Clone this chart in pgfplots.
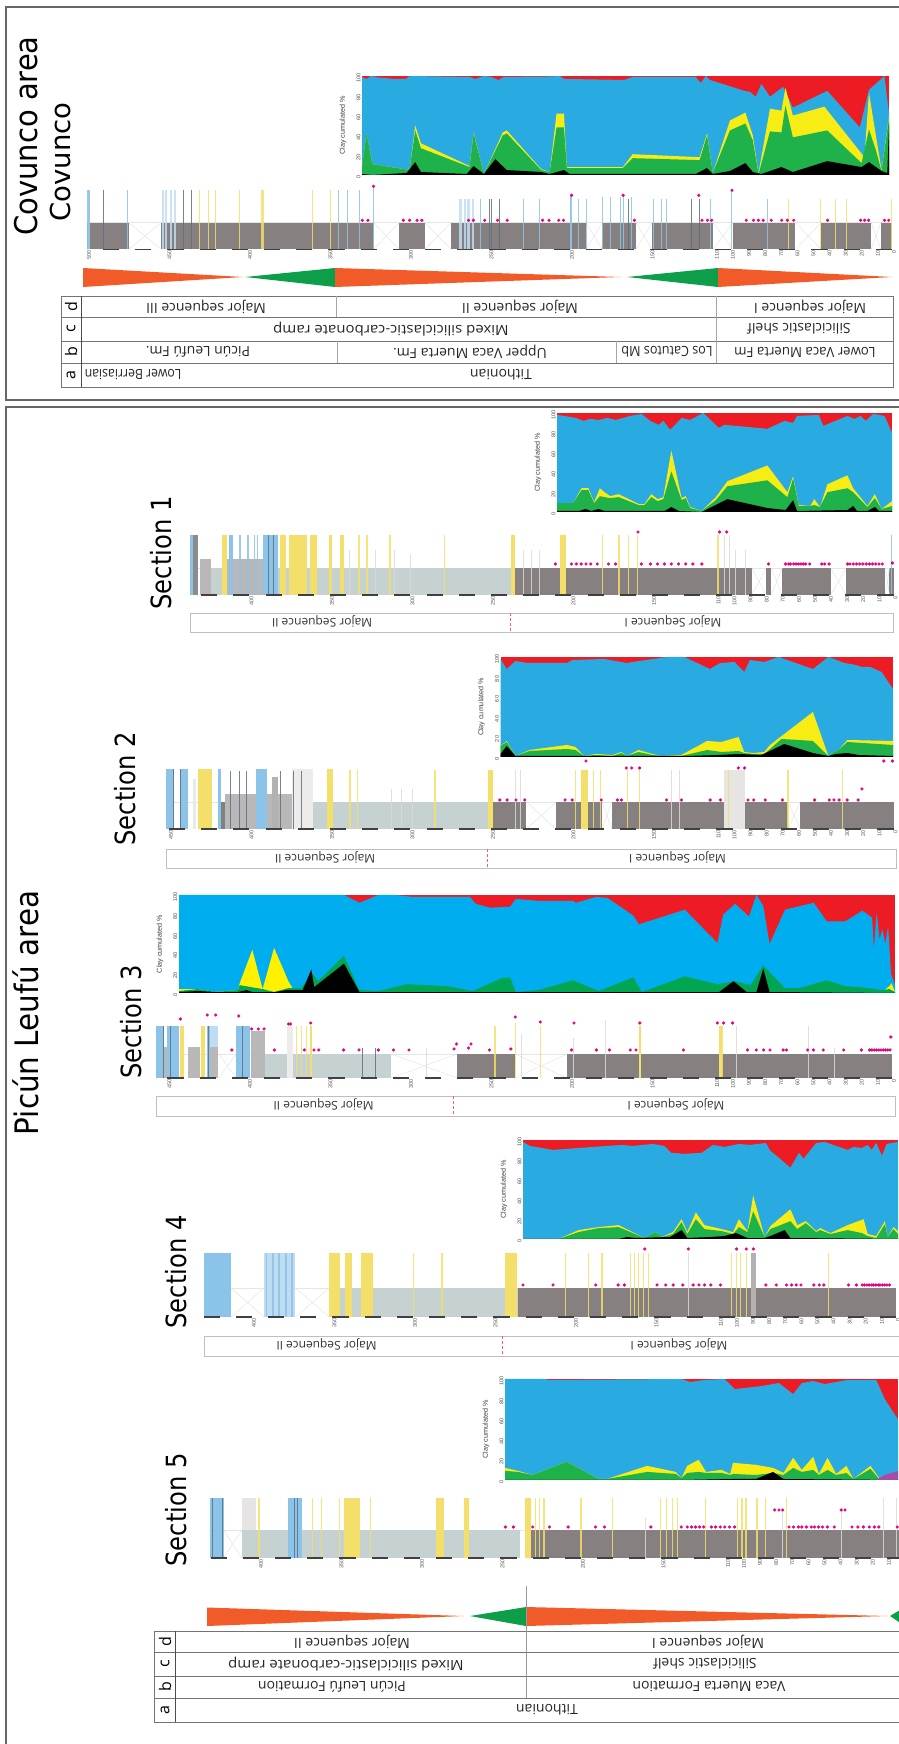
\documentclass[border=0pt]{standalone}
\usepackage{fontspec}
\usepackage{pgfplots}
\pgfplotsset{compat=1.18}
\setmainfont{Liberation Sans}
\newfontfamily\titlefont{DejaVu Sans}
\newfontfamily\tabfont{Open Sans}
\definecolor{cred}{HTML}{ED1C24}
\definecolor{cblue}{HTML}{29ABE2}
\definecolor{cyel}{HTML}{F7EC13}
\definecolor{cgreen}{HTML}{1FB24A}
\definecolor{sblue}{HTML}{00AEEF}
\definecolor{sgreen}{HTML}{00A651}
\definecolor{syel}{HTML}{FFF200}
\definecolor{greyb}{HTML}{868180}
\definecolor{pale}{HTML}{C6D2D1}
\definecolor{bedb}{HTML}{8CC3E8}
\definecolor{bedl}{HTML}{BFDDF2}
\definecolor{bedd}{HTML}{5E6F7E}
\definecolor{bedy}{HTML}{F3DF6A}
\definecolor{bedp}{HTML}{DDDAD8}
\definecolor{blockg}{HTML}{B9B7B8}
\definecolor{dotc}{HTML}{E5007E}
\definecolor{triO}{HTML}{F15A29}
\definecolor{triG}{HTML}{0C9E48}
\pgfplotsset{
 /pgf/number format/assume math mode=true,
 clay/.style={scale only axis,clip=true,ymin=0,ymax=100,
  axis lines=left,axis line style={draw=none},major tick length=0pt,
  xtick=\empty,ytick={0,20,40,60,80,100},
  yticklabel style={rotate=90,anchor=south,font=\fontsize{5.5}{6}\selectfont,text=black!70,inner sep=1.5pt,xshift=-2pt},
  ylabel={Clay cumulated \%},
  ylabel style={font=\fontsize{7.2}{8}\selectfont,text=black!75,at={([xshift=-19pt]axis description cs:0,0.5)},anchor=center}},
 logax/.style={scale only axis,clip=false,x dir=reverse,xmin=0,ymin=0,ymax=80,height=80pt,
  axis x line=bottom,axis y line=none,axis line style={draw=none},major tick length=0pt,
  xtick={0,10,20,30,40,50,60,70,80,90,100,110,150,200,250,300,350,400,450,500},
  xticklabel style={rotate=90,anchor=east,font=\fontsize{5.5}{6}\selectfont,text=black!65,inner sep=1pt,yshift=-2pt}},
 bedline/.style={ycomb,mark=none,forget plot}
}
\newcommand{\seg}[4]{\addplot[fill=#4,draw=none,forget plot] coordinates {(#1,#3)(#2,#3)} \closedcycle;}
\newcommand{\beds}[3]{\addplot[bedline,draw=#1,draw opacity=.85,line width=#2] coordinates {#3};}
\newcommand{\pts}[1]{\addplot[only marks,mark=*,mark size=1.4pt,color=dotc,forget plot] coordinates {#1};}
\newcommand{\scalebar}[1]{\addplot[black!75,line width=1.4pt,dash pattern=on 16.1pt off 16.1pt,forget plot] coordinates {(0,0)(#1,0)};}
\newcommand{\topline}[2]{\addplot[black!10,line width=.4pt,forget plot] coordinates {(0,#2)(#1,#2)};}
\newcommand{\gap}[3]{\addplot[black!12,line width=.4pt,forget plot] coordinates {(#1,0)(#2,#3)}; \addplot[black!12,line width=.4pt,forget plot] coordinates {(#1,#3)(#2,0)};}
\newcommand{\tabtext}[3]{\node[rotate=180,inner sep=0pt,font=\tabfont\fontsize{14}{15}\selectfont,text=black!85] at (#1,#2) {#3};}
\newcommand{\tabfit}[4]{\node[rotate=180,inner sep=0pt,font=\tabfont\fontsize{14}{15}\selectfont,text=black!85] at (#1,#2) {\scalebox{#4}[1]{#3}};}
\newcommand{\smtext}[3]{\node[rotate=180,inner sep=0pt,font=\tabfont\fontsize{12}{14}\selectfont,text=black!80] at (#1,#2) {#3};}
\newcommand{\rowletter}[3]{\node[rotate=90,inner sep=0pt,font=\tabfont\fontsize{16}{17}\selectfont] at (#1,#2) {#3};}
\newcommand{\titletext}[5]{\node[inner sep=0pt] at (#1,#2) {\rotatebox{90}{\scalebox{1}[#5]{\titlefont\fontsize{#3}{#3}\selectfont #4}}};}
\newcommand{\seqbox}[8]{\draw[black!25,line width=.9pt] (#1,#3) rectangle (#2,#4);
 \draw[cred!70,line width=.5pt,densely dashed] (#5,#3) -- (#5,#4);
 \smtext{#6}{#8}{Major Sequence II}\smtext{#7}{#8}{Major Sequence I}}
\begin{document}
\begin{tikzpicture}
\useasboundingbox (0,0) rectangle (898pt,1744pt);
% ---------- canvas: frames, tables, wedges, titles
\begin{axis}[at={(0pt,0pt)},anchor=south west,scale only axis,width=898pt,height=1744pt,hide axis,
 xmin=0,xmax=898,ymin=0,ymax=1744,y dir=reverse,clip=false]
\draw[black!60,line width=1.3pt] (910,7) -- (6,7) -- (6,400) -- (910,400);
\draw[black!60,line width=1.3pt] (910,407) -- (6,407) -- (6,1760);
% wedges Covunco
\addplot[fill=triO,draw=none] coordinates {(83,268)(83,287)(243,277)} --cycle;
\addplot[fill=triG,draw=none] coordinates {(335,268)(335,287)(245,277)} --cycle;
\addplot[fill=triO,draw=none] coordinates {(335,268)(335,287)(621,277)} --cycle;
\addplot[fill=triG,draw=none] coordinates {(718,268)(718,287)(627,277)} --cycle;
\addplot[fill=triO,draw=none] coordinates {(718,268)(718,287)(892,277)} --cycle;
% wedges Picun
\addplot[fill=triO,draw=none] coordinates {(207,1607.5)(207,1626)(464,1616)} --cycle;
\addplot[fill=triG,draw=none] coordinates {(526,1607)(526,1626)(470,1616)} --cycle;
\addplot[fill=triO,draw=none] coordinates {(526,1607)(526,1626)(888,1616)} --cycle;
\addplot[fill=triG,draw=none] coordinates {(905,1607)(905,1626)(890,1616)} --cycle;
% Covunco table
\draw[black!55,line width=1pt] (61,296) rectangle (893,387);
\draw[black!55,line width=1pt] (61,317) -- (893,317) (61,341) -- (893,341) (61,363) -- (893,363);
\draw[black!70,line width=.8pt] (81,296) -- (81,387);
\draw[black!35,line width=.5pt] (336,296) -- (336,317) (716.5,296) -- (716.5,363) (337,341) -- (337,363) (616,341) -- (616,363);
\rowletter{71}{307}{d}\rowletter{71}{329}{c}\rowletter{71}{352}{b}\rowletter{71}{375}{a}
\tabtext{206}{307}{Major sequence III}\tabtext{520}{307}{Major sequence II}\tabtext{810}{307}{Major sequence I}
\tabfit{391}{329}{Mixed siliciclastic-carbonate ramp}{1.07}\tabtext{799}{329}{Siliciclastic shelf}
\tabtext{198}{352}{Picún Leufú Fm.}\tabtext{470}{352}{Upper Vaca Muerta Fm.}\tabfit{667}{352}{Los Catutos Mb}{.9}\tabfit{805}{352}{Lower Vaca Muerta Fm}{.95}
\tabfit{133}{375}{Lower Berriasian}{.88}\tabtext{501}{375}{Tithonian}
% Picun table
\draw[black!55,line width=1pt] (910,1631) -- (154,1631) -- (154,1722) -- (910,1722);
\draw[black!55,line width=1pt] (154,1652) -- (910,1652) (154,1676) -- (910,1676) (154,1698) -- (910,1698);
\draw[black!70,line width=.8pt] (175,1631) -- (175,1722);
\draw[black!40,line width=.5pt] (526,1586) -- (526,1698);
\rowletter{165}{1642}{d}\rowletter{165}{1664}{c}\rowletter{165}{1687}{b}\rowletter{165}{1710}{a}
\tabtext{352}{1642}{Major sequence II}\tabtext{708}{1642}{Major sequence I}
\tabfit{346}{1664}{Mixed siliciclastic-carbonate ramp}{1.07}\tabtext{705}{1664}{Siliciclastic shelf}
\tabtext{332}{1687}{Picún Leufú Formation}\tabtext{709}{1687}{Vaca Muerta Formation}
\tabtext{547}{1710}{Tithonian}
% sequence boxes
\seqbox{190}{893.5}{613}{632.7}{510}{322}{673}{621}
\seqbox{166.7}{896}{849}{868}{487}{325}{677.5}{857}
\seqbox{156}{895}{1096}{1116}{453}{323.6}{676}{1104}
\seqbox{204.5}{910}{1336}{1356}{502}{326.5}{679}{1344}
% titles
\titletext{26.5}{136}{29}{Covunco area}{1.08}
\titletext{60}{162}{27.5}{Covunco}{1.0}
\titletext{26}{1013}{29.4}{Picún Leufú area}{1.1}
\titletext{161}{553}{24.2}{Section 1}{1.15}
\titletext{125}{789}{24.2}{Section 2}{1.15}
\titletext{131}{1022}{24.2}{Section 3}{1.15}
\titletext{176}{1272}{24.2}{Section 4}{1.15}
\titletext{176}{1510}{24.2}{Section 5}{1.15}
\end{axis}
% ---------- Covunco clay
\begin{axis}[clay,at={(362pt,1569pt)},anchor=south west,width=527pt,height=99pt,xmin=632,xmax=1553]
\addplot[fill=cred,draw=none] coordinates {(632,100)(1553,100)} \closedcycle;
\addplot[fill=cblue,draw=none] coordinates {(632,99)(640,97)(648,100)(660,98.5)(690,97)(708,97)(716,100)(820,99)(830,97)(845,100)(858,99)(870,96)(880,99)(960,99.5)(978,100)(985,97)(1090,96)(1105,99)(1215,99)(1224,93)(1233,100)(1240,96)(1300,85)(1310,84)(1320,79)(1330,92)(1345,79)(1368,89)(1385,68)(1445,85)(1502,48)(1518,86)(1545,100)(1553,62)} \closedcycle;
\addplot[fill=cyel,draw=none] coordinates {(632,8)(640,42)(650,11)(715,5)(725,50)(735,32)(820,9)(827,43)(845,1)(878,43)(885,45)(945,6)(960,3)(972,62)(985,62)(990,8)(1088,8)(1105,21)(1222,18)(1235,42)(1245,2)(1275,55)(1302,63)(1315,40)(1325,2)(1345,67)(1365,65)(1372,88)(1385,60)(1440,69)(1510,18)(1518,83)(1530,40)(1540,5)(1553,60)} \closedcycle;
\addplot[fill=cgreen,draw=none] coordinates {(632,8)(640,42)(650,11)(715,5)(725,45)(735,27)(820,8)(827,42)(845,1)(878,40)(885,42)(945,5)(960,3)(972,48)(985,48)(990,7)(1088,7)(1105,17)(1222,15)(1235,40)(1245,2)(1275,45)(1302,52)(1315,35)(1325,1)(1345,44)(1365,43)(1372,70)(1385,38)(1445,45)(1505,12)(1518,46)(1530,25)(1540,4)(1553,58)} \closedcycle;
\addplot[fill=black,draw=none] coordinates {(632,1)(650,0)(710,2)(725,13)(735,3)(815,1)(827,9)(845,1)(865,16)(885,5)(945,3)(960,1)(985,5)(995,1)(1215,1)(1235,7)(1245,1)(1275,4)(1302,12)(1315,3)(1330,1)(1365,8)(1385,3)(1445,14)(1505,8)(1518,13)(1540,4)(1550,2)(1553,50)} \closedcycle;
\end{axis}
% ---------- Covunco log
\begin{axis}[logax,at={(87pt,1494.7pt)},anchor=south west,width=805pt,xmax=500]
\topline{500}{26.6}
\seg{500}{474}{26.6}{greyb}\seg{454}{322}{26.6}{greyb}\seg{306}{290}{26.6}{greyb}\seg{274}{190}{26.6}{greyb}\seg{180}{159}{26.6}{greyb}\seg{149}{111}{26.6}{greyb}\seg{99}{60}{26.6}{greyb}\seg{44}{13}{26.6}{greyb}\seg{7}{0}{26.6}{greyb}
\gap{474}{454}{26.6}\gap{322}{306}{26.6}\gap{290}{274}{26.6}\gap{190}{180}{26.6}\gap{159}{149}{26.6}\gap{111}{99}{26.6}\gap{60}{44}{26.6}\gap{13}{7}{26.6}
\beds{bedl}{2.2pt}{(499,59)(453,59)(451,59)(448,59)(445.5,59)(268,50)(265,50)(263,50)(260,50)}
\beds{bedb}{1pt}{(474.6,59)(344,59)(338,59)(331,59)(322,63)(255.6,50)(229,50)(219,50)(199.5,54)(195,50)(190,50)(179.6,52)(175,52)(168.6,52)(167,54)(162,52)(148,50)(143,50)(140,50)(113,50)(99.7,59)(77.4,50)}
\beds{bedb}{2.4pt}{(199.5,54)(499,59)}
\beds{bedd}{1pt}{(490,59)(440,59)(435,59)(250,50)(248.5,50)(243.5,50)(163.6,50)(124.6,50)(119.6,50)}
\beds{bedy}{1pt}{(430,59)(424.5,59)(420,59)(405,59)(360,59)(349,59)(64,50)(44.4,50)(35,50)(28.4,50)(0,50)}
\beds{bedy}{2.2pt}{(391,59)}
\scalebar{500}
\pts{(329,29)(325.5,29)(303.5,29)(299.6,29)(295,29)(292,29)(263,29)(260,29)(253,29)(245,29)(239,29)(217,29)(213,29)(207,29)(204,29)(160,29)(118,29)(114.6,29)(112,29)(90.5,29)(86,29)(83,29)(80,29)(75,29)(68.5,29)(65,29)(61,29)(40,29)(19.5,29)(17,29)(14.5,29)(4.6,29)(2,29)(322,63)(199,54)(167,54)(120,54)(99.4,59)}
\end{axis}
% ---------- Section 1 clay
\begin{axis}[clay,at={(557pt,1232pt)},anchor=south west,width=335pt,height=99pt,xmin=972,xmax=1558]
\addplot[fill=cred,draw=none] coordinates {(972,100)(1558,100)} \closedcycle;
\addplot[fill=cblue,draw=none] coordinates {(972,98)(985,97)(1005,95)(1018,92)(1030,94)(1045,93)(1060,95)(1075,93)(1100,97)(1120,99)(1135,92)(1150,88)(1158,92)(1170,83)(1190,95)(1205,93)(1228,100)(1255,85)(1265,88)(1340,84)(1370,92)(1385,90)(1392,97)(1430,98)(1438,87)(1480,97)(1492,94)(1503,97)(1512,92)(1525,99)(1545,97)(1558,80)} \closedcycle;
\addplot[fill=cyel,draw=none] coordinates {(972,9)(1000,9)(1015,24)(1027,24)(1037,10)(1047,24)(1055,20)(1065,16)(1080,18)(1115,8)(1125,8)(1137,18)(1148,13)(1158,15)(1172,62)(1190,14)(1197,16)(1205,5)(1225,1)(1250,15)(1270,31)(1340,47)(1375,20)(1385,36)(1395,7)(1415,6)(1422,13)(1432,5)(1445,28)(1480,37)(1490,24)(1515,6)(1528,18)(1540,3)(1558,11)} \closedcycle;
\addplot[fill=cgreen,draw=none] coordinates {(972,9)(1000,9)(1015,22)(1027,22)(1037,9)(1047,16)(1055,15)(1065,14)(1080,15)(1115,7)(1125,7)(1137,15)(1148,11)(1158,13)(1172,41)(1190,12)(1197,14)(1205,4)(1225,1)(1250,12)(1270,26)(1340,32)(1375,15)(1385,34)(1395,6)(1415,6)(1422,7)(1432,5)(1445,20)(1480,24)(1490,20)(1515,5)(1528,14)(1540,3)(1558,6)} \closedcycle;
\addplot[fill=black,draw=none] coordinates {(972,1)(1010,1)(1022,3)(1032,1)(1045,3)(1055,1)(1160,1)(1172,5)(1185,1)(1225,0)(1270,13)(1340,4)(1372,2)(1385,12)(1392,1)(1480,2)(1490,6)(1497,1)(1515,1)(1528,5)(1535,1)(1558,1)} \closedcycle;
\end{axis}
% ---------- Section 1 log
\begin{axis}[logax,at={(189.9pt,1149pt)},anchor=south west,width=703.6pt,xmax=437]
\topline{437}{27}
\seg{424}{235}{27}{pale}
\seg{235}{88}{27}{greyb}\seg{79}{76}{27}{greyb}\seg{69}{39}{27}{greyb}\seg{29.5}{5}{27}{greyb}\seg{2.5}{0}{27}{greyb}
\gap{88}{79}{27}\gap{76}{69}{27}\gap{39}{29.5}{27}\gap{5}{2.5}{27}
\seg{437}{432}{60}{bedb}\seg{435}{432}{60}{black!45}\seg{431}{424}{36}{blockg}\seg{417}{414}{60}{bedy}\seg{414}{391}{36}{blockg}\seg{413}{410}{60}{bedb}
\seg{391.5}{382}{60}{bedb}\seg{381}{377}{60}{bedy}\seg{375.4}{364}{60}{bedy}\seg{362.4}{358}{60}{bedy}
\seg{350.6}{348.7}{60}{bedy}\seg{343.8}{341}{60}{bedy}\seg{237.7}{235}{60}{bedy}\seg{207}{203.6}{60}{bedy}
\beds{bedb}{1.5pt}{(406,60)(401,60)(397,60)(395,60)}
\beds{bedd}{.9pt}{(388,60)(385,60)}
\beds{bedp}{.6pt}{(338,45)(322,45)(310,45)(300,40)(230,45)(225,45)(220,45)(105,60)(102,60)(98,45)(92,45)}
\beds{bedy}{1.1pt}{(332,60)(327,60)(312.7,60)(279,60)(181,60)(170.5,60)(164.4,60)(159,60)(109,60)}
\beds{bedb}{.9pt}{(1,60)}
\scalebar{437}
\pts{(210,31)(200,31)(197,31)(194,31)(191,31)(188,31)(184,31)(177,31)(172.6,31)(156.6,31)(151,31)(146.6,31)(142.3,31)(138,31)(133.5,31)(129,31)(124.6,31)(119,31)(77.6,31)(67,31)(65,31)(64,31)(62,31)(60.5,31)(59,31)(57.5,31)(56,31)(54.5,31)(52,31)(44.5,31)(42.7,31)(40,31)(28.5,31)(27,31)(25,31)(23,31)(21,31)(19,31)(17,31)(15,31)(13,31)(11,31)(9,31)(7,31)(0.7,32)(158.7,63)(108,63)(103.6,63)}
\end{axis}
% ---------- Section 2 clay
\begin{axis}[clay,at={(500.5pt,987pt)},anchor=south west,width=392.5pt,height=100pt,xmin=874,xmax=1560]
\addplot[fill=cred,draw=none] coordinates {(874,100)(1560,100)} \closedcycle;
\addplot[fill=cblue,draw=none] coordinates {(874,98)(885,88)(900,96)(920,94)(990,94)(1000,97)(1055,98)(1095,94)(1105,95)(1165,100)(1195,100)(1240,88)(1258,94)(1283,95)(1300,85)(1310,97)(1335,95)(1360,100)(1420,88)(1447,100)(1475,94)(1495,92)(1505,90)(1520,90)(1540,85)(1560,68)} \closedcycle;
\addplot[fill=cyel,draw=none] coordinates {(874,11)(885,16)(900,1)(925,7)(990,12)(1005,10)(1020,1)(1040,3)(1070,2)(1085,5)(1095,1)(1115,7)(1140,3)(1155,1)(1190,2)(1235,16)(1260,15)(1290,20)(1300,5)(1315,4)(1335,5)(1345,12)(1420,45)(1447,1)(1457,5)(1465,7)(1480,17)(1560,16)} \closedcycle;
\addplot[fill=cgreen,draw=none] coordinates {(874,11)(885,15)(900,1)(925,6)(990,8)(1005,7)(1020,1)(1040,2)(1070,1)(1085,4)(1095,1)(1115,5)(1140,2)(1155,1)(1190,1)(1235,7)(1260,5)(1290,6)(1300,4)(1315,3)(1335,3)(1345,8)(1365,18)(1395,17)(1420,16)(1447,1)(1457,5)(1465,7)(1480,15)(1560,12)} \closedcycle;
\addplot[fill=black,draw=none] coordinates {(874,3)(885,11)(900,1)(1200,1)(1255,2)(1290,3)(1330,2)(1370,13)(1420,4)(1447,1)(1460,3)(1480,4)(1500,2)(1560,1)} \closedcycle;
\end{axis}
% ---------- Section 2 log
\begin{axis}[logax,at={(165.8pt,915pt)},anchor=south west,width=727.7pt,xmax=452]
\topline{452}{27}
\seg{360.6}{251}{27}{pale}
\seg{251}{228}{27}{greyb}\seg{209.6}{181}{27}{greyb}\seg{175}{65.5}{27}{greyb}\seg{58}{0}{27}{greyb}
\gap{228}{209.6}{27}\gap{181}{175}{27}\gap{65.5}{58}{27}
\seg{452}{447}{60}{bedb}\seg{443}{438.5}{60}{bedb}\seg{435}{433}{50}{bedp!60}\seg{432}{423}{60}{bedy}
\seg{419.5}{417.7}{60}{bedb}\seg{417.7}{415}{27}{black!50}\seg{415}{373.6}{35}{blockg}\seg{396}{389}{60}{bedb}\seg{386}{382}{52}{black!30}
\seg{373.6}{360.6}{60}{bedp!50}\seg{351.8}{348}{60}{bedy}\seg{105}{92.5}{59}{bedp!70}
\seg{251.6}{249}{59}{bedy}\seg{194}{190}{59}{bedy}
\beds{bedd}{.8pt}{(447.5,60)(443,60)(412,58)(406.5,58)(402,58)(380.6,58)(373,58)(368,58)}
\beds{bedp}{.6pt}{(312,40)(306,40)(299,40)(235,59)(232,59)(138,59)(133,59)}
\beds{bedy}{1.1pt}{(337.6,59)(333,59)(284.8,59)(197.5,59)(186.5,59)(182,59)(165,59)(158,59)(102.5,59)(65.5,59)(31.7,59)}
\scalebar{452}
\pts{(244.5,29)(240,29)(234.5,29)(229,29)(204,29)(199.6,29)(181.5,29)(171.5,29)(169,29)(141,29)(131.7,29)(113.9,29)(107.5,29)(90.4,29)(86.8,29)(79.7,29)(69,29)(49,29)(39.9,29)(37,29)(33.8,29)(28.8,29)(22,29)(166,61)(162.6,61)(157.7,61)(96.4,61)(92.5,61)(191,68)(19.6,40)(6,68)(0.7,68)}
\end{axis}
% ---------- Section 3 clay
\begin{axis}[clay,at={(179pt,751pt)},anchor=south west,width=716pt,height=98pt,xmin=312,xmax=1562]
\addplot[fill=cred,draw=none] coordinates {(312,100)(1562,100)} \closedcycle;
\addplot[fill=sblue,draw=none] coordinates {(312,100)(600,100)(627,92)(660,100)(690,100)(720,98)(820,98)(830,91)(855,87)(890,88)(900,96)(940,94)(1000,94)(1005,92)(1040,98)(1060,97)(1105,79)(1115,70)(1195,85)(1252,51)(1262,80)(1283,91)(1307,78)(1320,100)(1332,89)(1343,50)(1370,85)(1420,92)(1443,73)(1475,73)(1505,84)(1522,77)(1525,45)(1530,82)(1535,55)(1540,65)(1545,50)(1550,68)(1555,20)(1562,8)} \closedcycle;
\addplot[fill=syel,draw=none] coordinates {(312,4)(345,4)(375,1)(415,3)(418,10)(440,44)(458,4)(478,46)(503,12)(510,5)(525,5)(540,5)} \closedcycle;
\addplot[fill=syel,draw=none] coordinates {(1540,1)(1552,7)(1556,10)(1562,1)} \closedcycle;
\addplot[fill=sgreen,draw=none] coordinates {(312,2)(345,4)(375,1)(415,3)(418,8)(458,4)(478,1)(503,5)(525,5)(545,20)(555,12)(600,38)(627,3)(660,2)(710,9)(780,7)(825,2)(875,15)(890,16)(900,1)(940,3)(1000,13)(1045,2)(1105,16)(1120,1)(1195,17)(1252,9)(1283,12)(1310,8)(1332,28)(1370,5)(1395,5)(1443,13)(1475,7)(1500,6)(1540,3)(1552,4)(1562,1)} \closedcycle;
\addplot[fill=black,draw=none] coordinates {(312,1)(345,2)(375,1)(415,1)(430,3)(440,1)(480,1)(500,3)(528,3)(543,24)(548,6)(600,30)(627,1)(1255,1)(1280,12)(1303,1)(1320,1)(1332,25)(1343,1)(1562,0)} \closedcycle;
\end{axis}
% ---------- Section 3 log
\begin{axis}[logax,at={(156.2pt,666pt)},anchor=south west,width=735.8pt,xmax=457]
\topline{457}{24}
\seg{389.4}{375.8}{24}{pale}\seg{372}{311.4}{24}{pale}
\seg{270}{234}{24}{greyb}\seg{202}{0}{24}{greyb}
\gap{311}{270}{24}\gap{234}{202}{24}\gap{418}{407.5}{24}
\seg{457}{452}{52}{bedb}\seg{452}{450}{31}{blockg}\seg{450}{443}{52}{bedb}\seg{442}{440}{52}{bedy}\seg{437.5}{430}{31}{blockg}\seg{429.4}{426.7}{52}{bedy}\seg{425.7}{423.6}{52}{bedb}\seg{423.6}{418.6}{52}{bedl}\seg{423.6}{418.6}{31}{blockg}
\seg{407.5}{398.8}{52}{bedb}\seg{398}{389.4}{47}{black!28}\seg{375.8}{372}{52}{bedp!50}\seg{361.2}{360}{52}{bedy}\seg{107.5}{105.5}{52}{bedy}\seg{157}{156}{52}{bedy}
\beds{bedd}{.8pt}{(452.6,52)(448,52)(424.8,52)(403.2,52)(329,30)(320.7,30)}
\beds{bedy}{1.1pt}{(369.8,52)(366.7,52)(363.6,52)(246.6,52)(218.5,52)(234,55)(105,52)}
\beds{bedp}{.6pt}{(289,30)(230,44)(198,40)(178,58)(97,52)(52,52)(36,30)}
\scalebar{457}
\pts{(383.6,28)(365,28)(359,28)(356,28)(340.6,28)(331,28)(319,28)(309.6,28)(300,28)(272,29)(263,30)(250,28)(236.7,29)(199,28)(183.6,28)(175.5,28)(162.6,28)(159,28)(129.5,28)(89.7,28)(84.3,28)(79.7,28)(75.8,28)(67.6,28)(65.5,28)(52.3,28)(48.8,28)(42.7,28)(30,28)(19,28)(13.9,28)(12.5,28)(11,28)(9.6,28)(8.2,28)(6.8,28)(5.4,28)(4,28)(2.6,28)(1.2,28)(0.7,41)(197.5,55)(156.6,55)(108.5,55)(104.6,55)(99,55)(218.5,56)(234,61)(270.5,34)(261.5,34)(410,28)(442,59)(425.3,63)(420,63)(405.7,62)(397.7,49)(393.6,49)(390,49)(374.8,54)(373.6,54)(361,55)}
\end{axis}
% ---------- Section 4 clay
\begin{axis}[clay,at={(523pt,505pt)},anchor=south west,width=375pt,height=99pt,xmin=913,xmax=1568]
\addplot[fill=cred,draw=none] coordinates {(913,100)(1568,100)} \closedcycle;
\addplot[fill=cblue,draw=none] coordinates {(913,98)(925,94)(965,90)(1060,94)(1085,95)(1105,94)(1140,96)(1160,94)(1172,87)(1195,86)(1225,87)(1245,95)(1265,93)(1290,96)(1310,95)(1337,97)(1345,89)(1360,82)(1380,72)(1395,87)(1403,81)(1425,97)(1440,98)(1480,90)(1490,93)(1505,92)(1515,95)(1522,90)(1530,97)(1540,84)(1548,96)(1568,98)} \closedcycle;
\addplot[fill=cyel,draw=none] coordinates {(913,0)(975,0)(1010,9)(1045,12)(1080,14)(1125,1)(1145,7)(1155,2)(1175,7)(1190,20)(1200,7)(1215,27)(1230,14)(1260,10)(1280,7)(1290,20)(1305,8)(1315,44)(1335,2)(1345,13)(1380,30)(1392,14)(1407,18)(1425,8)(1432,11)(1450,6)(1480,14)(1508,20)(1515,5)(1530,3)(1545,18)(1550,2)(1560,12)(1568,8)} \closedcycle;
\addplot[fill=cgreen,draw=none] coordinates {(913,0)(975,0)(1010,7)(1045,11)(1080,12)(1125,1)(1145,7)(1155,2)(1175,5)(1190,17)(1200,5)(1215,20)(1230,10)(1260,8)(1280,5)(1290,12)(1305,7)(1315,28)(1335,2)(1345,10)(1380,18)(1392,10)(1407,16)(1425,7)(1432,9)(1450,5)(1480,9)(1505,6)(1515,3)(1530,1)(1545,15)(1550,2)(1560,10)(1568,5)} \closedcycle;
\addplot[fill=black,draw=none] coordinates {(913,0)(1080,0)(1095,2)(1110,1)(1170,2)(1190,9)(1200,1)(1240,2)(1265,3)(1285,6)(1305,1)(1335,1)(1345,3)(1370,9)(1380,1)(1568,0)} \closedcycle;
\end{axis}
% ---------- Section 4 log
\begin{axis}[logax,at={(203.7pt,427pt)},anchor=south west,width=692.3pt,xmax=430]
\topline{430}{29}
\seg{352}{235}{29}{pale}\seg{235}{0}{29}{greyb}
\gap{413}{392.5}{29}\gap{373}{352}{29}
\seg{429.5}{413}{64}{bedb}\seg{392.5}{373}{64}{bedl}
\beds{bedb}{1.8pt}{(391,64)(387,64)(383,64)(379,64)(375,64)}
\seg{352}{345.5}{64}{bedy}\seg{342}{338}{64}{bedy}\seg{332}{325}{64}{bedy}\seg{243}{235.6}{64}{bedy}\seg{90}{87}{64}{black!30}
\beds{bedy}{1.1pt}{(299.6,64)(282,64)(205,64)(191,64)(182.6,64)(165,64)(162.6,64)(159.8,64)(157,64)(153.7,64)(102,64)(99,64)(96.4,64)(93,64)(42,64)}
\beds{bedp}{.7pt}{(129,64)}
\scalebar{430}
\pts{(231.7,32)(213,32)(186.5,32)(172.6,32)(168.7,32)(148.4,32)(143,32)(138.4,32)(132.4,32)(126,32)(122.4,32)(118.9,32)(115,32)(109,32)(80.8,32)(74.4,32)(68,32)(64.8,32)(62,32)(59,32)(51,32)(47.7,32)(44.8,32)(29.5,32)(24.6,32)(21,32)(19.6,32)(18,32)(16.7,32)(15,32)(14,32)(12.5,32)(11,32)(10,32)(8.5,32)(7,32)(5.6,32)(4,32)(156,68)(129,68)(99,68)(93,68)(88.6,68)}
\end{axis}
% ---------- Section 5 clay
\begin{axis}[clay,at={(505pt,264pt)},anchor=south west,width=393pt,height=101pt,xmin=882,xmax=1568]
\addplot[fill=cred,draw=none] coordinates {(882,100)(1568,100)} \closedcycle;
\addplot[fill=cblue,draw=none] coordinates {(882,100)(950,100)(960,99)(1190,100)(1205,97)(1230,99)(1265,100)(1283,90)(1330,93)(1360,96)(1385,85)(1400,96)(1420,98)(1440,95)(1480,99)(1530,99)(1545,80)(1568,60)} \closedcycle;
\addplot[fill=cyel,draw=none] coordinates {(882,12)(905,9)(930,5)(990,18)(1045,1)(1060,1)(1130,14)(1180,8)(1190,2)(1200,14)(1220,20)(1233,8)(1260,10)(1275,6)(1280,17)(1320,15)(1350,12)(1368,7)(1385,22)(1400,10)(1420,23)(1430,6)(1445,22)(1460,6)(1478,14)(1490,1)(1520,14)(1535,2)(1568,1)} \closedcycle;
\addplot[fill=cgreen,draw=none] coordinates {(882,9)(905,8)(930,5)(990,18)(1045,1)(1060,1)(1130,8)(1180,6)(1190,2)(1200,7)(1220,8)(1233,7)(1260,7)(1275,5)(1280,6)(1320,5)(1350,7)(1368,5)(1385,12)(1400,8)(1420,10)(1430,5)(1445,10)(1460,5)(1478,7)(1490,1)(1520,11)(1535,1)(1568,1)} \closedcycle;
\addplot[fill=black,draw=none] coordinates {(882,0)(1190,0)(1280,1)(1320,1)(1350,8)(1368,1)(1568,0)} \closedcycle;
\addplot[fill=violet!70,draw=none] coordinates {(1530,0)(1545,5)(1568,9)} \closedcycle;
\end{axis}
% ---------- Section 5 log
\begin{axis}[logax,at={(209.1pt,186pt)},anchor=south west,width=693.9pt,xmax=431]
\topline{431}{28}
\seg{410.7}{238}{28}{pale}\seg{234.5}{0}{28}{greyb}
\gap{422}{410.7}{28}
\seg{430.6}{422}{60}{bedb}\seg{410.7}{402}{60}{bedp!70}\seg{410.7}{402}{28}{pale}\seg{382}{373}{60}{bedb}
\seg{347}{337}{60}{bedy}\seg{290}{285}{60}{bedy}\seg{272.6}{269.4}{60}{bedy}\seg{234.5}{231}{60}{bedy}
\beds{bedd}{.8pt}{(429,60)(423,60)(378,60)(376,60)}
\beds{bedy}{1.1pt}{(400,60)(366.5,60)(361,60)(350,60)(330.6,60)(228.5,60)(225.6,60)(223,60)(200,60)(180.4,60)(150.9,60)(147,60)(143,60)(140,60)(122.4,60)(102.8,60)(100,60)(97.5,60)(90.7,60)(85.4,60)(72.6,60)}
\beds{bedp}{.7pt}{(160,40)(75,48)(38,48)(12,60)(4,60)}
\scalebar{431}
\pts{(247,31)(242,31)(230,31)(219.6,31)(208,31)(191,31)(185.4,31)(156.6,31)(137.7,31)(134,31)(131.3,31)(128.8,31)(126.3,31)(123.8,31)(119,31)(116.4,31)(113.5,31)(110.7,31)(107.8,31)(104.6,31)(70.8,31)(68,31)(65,31)(62.8,31)(60,31)(57,31)(55,31)(52.4,31)(50,31)(47,31)(42.7,31)(31.7,31)(28,31)(24.6,31)(21,31)(17.8,31)(15,31)(3.6,31)(79.7,48)(77,48)(74.7,48)(38.4,48)(36,48)}
\end{axis}
\end{tikzpicture}
\end{document}
